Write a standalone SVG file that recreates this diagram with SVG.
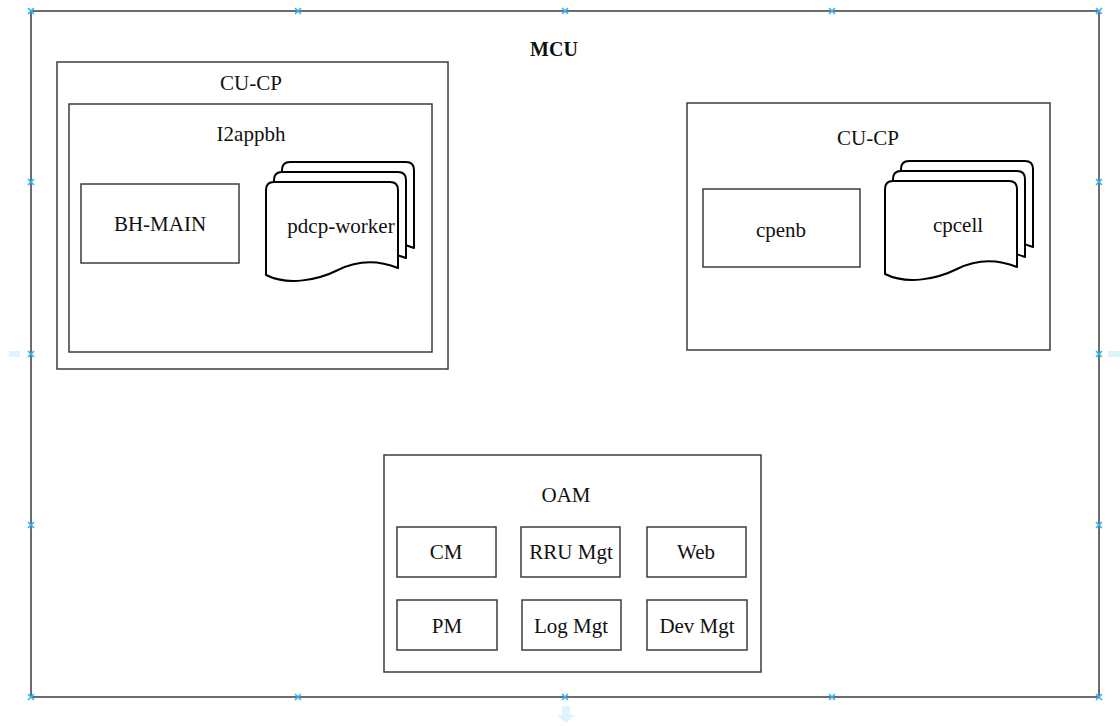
<svg xmlns="http://www.w3.org/2000/svg" xmlns:xlink="http://www.w3.org/1999/xlink" width="1120" height="726" viewBox="0 0 1120 726">
  <style>
    .box { fill: #ffffff; stroke: #3c3c3c; stroke-width: 1.5; }
    .doc { fill: #ffffff; stroke: #000000; stroke-width: 2; stroke-linejoin: round; }
    .lbl { font-family: "Liberation Serif", "Times New Roman", serif; font-size: 21px; fill: #111111; text-anchor: middle; dominant-baseline: central; }
    .bold { font-weight: bold; font-size: 20px; }
    .handle { stroke: #29b6f2; stroke-width: 1.6; fill: none; }
    .hint { fill: #29b6f2; fill-opacity: 0.16; }
  </style>
  <defs>
    <!-- one page of the stacked-document shape, 132 x ~100 -->
    <path id="page" d="M0,8 Q0,0 8,0 H124 Q132,0 132,8 V86 C112,78 92,78 72,88 C52,98 22,104 0,93 Z"/>
    <!-- small selection handle -->
    <path id="hx" d="M-3,-3 L3,3 M-3,3 L3,-3"/>
  </defs>

  <rect width="1120" height="726" fill="#ffffff"/>

  <!-- outer MCU container -->
  <g id="mcu">
    <rect class="box" x="31" y="11" width="1068" height="686"/>
    <text class="lbl bold" x="554" y="49">MCU</text>
  </g>

  <!-- left CU-CP -->
  <g id="cucp-left">
    <rect class="box" x="57" y="62" width="391" height="307"/>
    <text class="lbl" x="251" y="83">CU-CP</text>
  </g>

  <g id="i2appbh">
    <rect class="box" x="69" y="104" width="363" height="248"/>
    <text class="lbl" x="251" y="134">I2appbh</text>
  </g>

  <g id="bh-main">
    <rect class="box" x="81" y="184" width="158" height="79"/>
    <text class="lbl" x="160" y="224">BH-MAIN</text>
  </g>

  <g id="pdcp-worker">
    <use href="#page" xlink:href="#page" class="doc" x="282" y="162"/>
    <use href="#page" xlink:href="#page" class="doc" x="274" y="172"/>
    <use href="#page" xlink:href="#page" class="doc" x="266" y="182"/>
    <text class="lbl" x="341" y="226">pdcp-worker</text>
  </g>

  <!-- right CU-CP -->
  <g id="cucp-right">
    <rect class="box" x="687" y="103" width="363" height="247"/>
    <text class="lbl" x="868" y="138">CU-CP</text>
  </g>

  <g id="cpenb">
    <rect class="box" x="703" y="189" width="157" height="78"/>
    <text class="lbl" x="781" y="230">cpenb</text>
  </g>

  <g id="cpcell">
    <use href="#page" xlink:href="#page" class="doc" x="901" y="161"/>
    <use href="#page" xlink:href="#page" class="doc" x="893" y="171"/>
    <use href="#page" xlink:href="#page" class="doc" x="885" y="181"/>
    <text class="lbl" x="958" y="225">cpcell</text>
  </g>

  <!-- OAM block -->
  <g id="oam">
    <rect class="box" x="384" y="455" width="377" height="217"/>
    <text class="lbl" x="566" y="495">OAM</text>
  </g>
  <g id="cm">
    <rect class="box" x="397" y="527" width="99" height="50"/>
    <text class="lbl" x="446" y="552">CM</text>
  </g>
  <g id="rru-mgt">
    <rect class="box" x="521" y="527" width="99" height="50"/>
    <text class="lbl" x="571" y="552">RRU Mgt</text>
  </g>
  <g id="web">
    <rect class="box" x="647" y="527" width="99" height="50"/>
    <text class="lbl" x="696" y="552">Web</text>
  </g>
  <g id="pm">
    <rect class="box" x="397" y="600" width="100" height="50"/>
    <text class="lbl" x="447" y="626">PM</text>
  </g>
  <g id="log-mgt">
    <rect class="box" x="522" y="600" width="99" height="50"/>
    <text class="lbl" x="571" y="626">Log Mgt</text>
  </g>
  <g id="dev-mgt">
    <rect class="box" x="647" y="600" width="100" height="50"/>
    <text class="lbl" x="697" y="626">Dev Mgt</text>
  </g>

  <!-- no connectors between nodes -->
  <g id="connectors"></g>

  <!-- selection handles and hover hints on the MCU container -->
  <g id="selection">
    <g class="handle">
      <use href="#hx" xlink:href="#hx" x="31" y="11"/>
      <use href="#hx" xlink:href="#hx" x="298" y="11"/>
      <use href="#hx" xlink:href="#hx" x="565" y="11"/>
      <use href="#hx" xlink:href="#hx" x="832" y="11"/>
      <use href="#hx" xlink:href="#hx" x="1099" y="11"/>
      <use href="#hx" xlink:href="#hx" x="31" y="697"/>
      <use href="#hx" xlink:href="#hx" x="298" y="697"/>
      <use href="#hx" xlink:href="#hx" x="565" y="697"/>
      <use href="#hx" xlink:href="#hx" x="832" y="697"/>
      <use href="#hx" xlink:href="#hx" x="1099" y="697"/>
      <use href="#hx" xlink:href="#hx" x="31" y="182"/>
      <use href="#hx" xlink:href="#hx" x="31" y="354"/>
      <use href="#hx" xlink:href="#hx" x="31" y="525"/>
      <use href="#hx" xlink:href="#hx" x="1099" y="182"/>
      <use href="#hx" xlink:href="#hx" x="1099" y="354"/>
      <use href="#hx" xlink:href="#hx" x="1099" y="525"/>
    </g>
    <rect class="hint" x="9" y="351" width="11" height="6"/>
    <rect class="hint" x="1108" y="351" width="12" height="6"/>
    <path class="hint" d="M562,706 H570 V715 H575 L566,723 L557,715 H562 Z"/>
  </g>
</svg>
